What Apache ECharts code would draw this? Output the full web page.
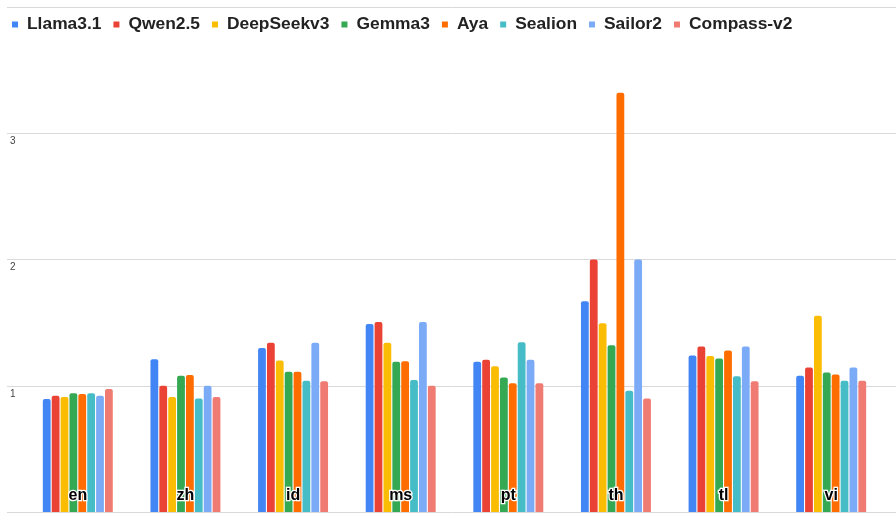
<!DOCTYPE html>
<html>
<head>
<meta charset="utf-8">
<script src="https://cdn.jsdelivr.net/npm/echarts@6/dist/echarts.min.js"></script>
<style>
  html, body { margin: 0; padding: 0; background: #fff; }
  #chart { width: 896px; height: 514px; }
</style>
</head>
<body>
<div id="chart"></div>
<script>
// 语言分类
const languages = ["en", "zh", "id", "ms", "pt", "th", "tl", "vi"];
const models = ["Llama3.1", "Qwen2.5", "DeepSeekv3", "Gemma3", "Aya", "Sealion", "Sailor2", "Compass-v2"];

// 每个模型在各语言上的数值
const llama = [0.895, 1.21, 1.30, 1.49, 1.19, 1.67, 1.24, 1.08];
const qwen = [0.92, 1.00, 1.34, 1.505, 1.205, 2.00, 1.31, 1.145];
const deepseek = [0.91, 0.91, 1.20, 1.34, 1.155, 1.495, 1.235, 1.555];
const gemma = [0.94, 1.08, 1.11, 1.19, 1.065, 1.32, 1.215, 1.105];
const aya = [0.935, 1.085, 1.11, 1.195, 1.02, 3.32, 1.28, 1.09];
const sealion = [0.94, 0.90, 1.04, 1.045, 1.345, 0.96, 1.075, 1.04];
const sailor = [0.92, 1.00, 1.34, 1.505, 1.205, 2.00, 1.31, 1.145];
const compass = [0.975, 0.91, 1.035, 1.00, 1.02, 0.90, 1.035, 1.04];

const yTicks = [0, 1, 2, 3, 4];

const seriesData = [llama, qwen, deepseek, gemma, aya, sealion, sailor, compass];
const colors = ["#4285F4", "#EA4335", "#FBBC04", "#34A853", "#FF6D01", "#46BDC6", "#7BAAF7", "#F07B72"];

let myChart = echarts.init(document.getElementById("chart"));

myChart.setOption({
  animation: false,
  color: colors,
  textStyle: { fontFamily: "Liberation Sans, Arial, sans-serif" },
  legend: {
    left: 7,
    top: 11,
    icon: "rect",
    itemWidth: 6,
    itemHeight: 6,
    itemGap: 12,
    textStyle: {
      fontSize: 17.4,
      fontWeight: "bold",
      color: "#222",
      padding: [0, 0, 0, 4],
    },
    data: models,
  },
  //两个grid: 一个放柱子, 一个只画横向网格线
  grid: [
    { left: 24, right: 11, top: 7, bottom: 2 },
    { left: 7, right: 0, top: 7, bottom: 2 },
  ],
  xAxis: [
    {
      type: "category",
      gridIndex: 0,
      data: languages,
      axisLine: { show: false },
      axisTick: { show: false },
      axisLabel: {
        inside: true,
        margin: 8,
        verticalAlign: "bottom",
        color: "#000",
        fontSize: 16,
        fontWeight: "bold",
        textBorderColor: "#fff",
        textBorderWidth: 2.5,
      },
      z: 10,
    },
    {
      type: "value",
      gridIndex: 1,
      min: 0,
      max: 1,
      show: false,
    },
  ],
  yAxis: [
    {
      type: "value",
      gridIndex: 0,
      min: yTicks[0],
      max: yTicks[yTicks.length - 1],
      interval: 1,
      show: false,
      splitLine: { show: false },
    },
    {
      type: "value",
      gridIndex: 1,
      min: yTicks[0],
      max: yTicks[yTicks.length - 1],
      interval: 1,
      axisLine: { show: false },
      axisTick: { show: false },
      axisLabel: {
        inside: true,
        margin: 3,
        verticalAlign: "top",
        padding: [3, 0, 0, 0],
        fontSize: 10,
        color: "#444",
        formatter: (v) => (v === 0 || v === 4 ? "" : String(v)),
      },
      splitLine: { lineStyle: { color: "#d9d9d9", width: 1 } },
    },
  ],
  series: models.map((name, i) => ({
    name: name,
    type: "bar",
    xAxisIndex: 0,
    yAxisIndex: 0,
    data: seriesData[i],
    barGap: "14%",
    barCategoryGap: "35%",
    itemStyle: {
      borderRadius: [2, 2, 0, 0],
    },
  })),
});
</script>
</body>
</html>
